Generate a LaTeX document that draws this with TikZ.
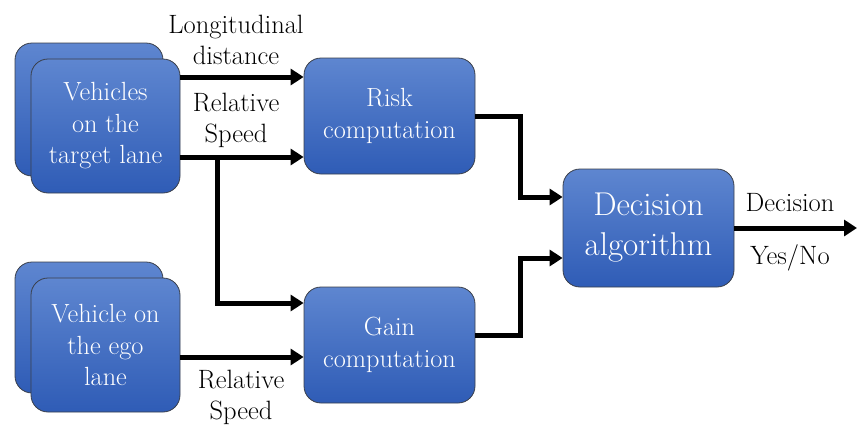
\documentclass[tikz,border=0pt]{standalone}
\usetikzlibrary{arrows.meta,calc}
\definecolor{boxtop}{HTML}{5E86D0}
\definecolor{boxbot}{HTML}{2F5CB6}
\definecolor{boxedge}{HTML}{3A3F4A}
\tikzset{
  blk/.style={rectangle, rounded corners=17pt, draw=boxedge, line width=0.8pt,
    top color=boxtop, bottom color=boxbot, text=white, align=center,
    inner sep=0pt, font=\fontsize{26.3}{31.5}\selectfont},
  arr/.style={line width=5pt, -{Triangle[length=13pt,width=16pt]}},
  lbl/.style={align=center, inner sep=0pt, font=\fontsize{26.5}{31}\selectfont}
}
\begin{document}
\begin{tikzpicture}[x=1pt,y=-1pt]
\useasboundingbox (0,0) rectangle (857,426);
% stacked source boxes
\node[blk, minimum width=148pt, minimum height=133pt] (tvb) at (89,109.5) {};
\node[blk, minimum width=149pt, minimum height=134pt] (tv) at (105.5,126) {Vehicles\\on the\\target lane};
\node[blk, minimum width=148pt, minimum height=131pt] (evb) at (89,327.5) {};
\node[blk, minimum width=149pt, minimum height=134pt] (ev) at (105.5,345) {Vehicle on\\the ego\\lane};
% computation boxes
\node[blk, minimum width=171pt, minimum height=116pt] (risk) at (389.5,116) {Risk\\computation};
\node[blk, minimum width=171pt, minimum height=116pt] (gain) at (389.5,345) {Gain\\computation};
\node[blk, minimum width=171pt, minimum height=118pt, font=\fontsize{33}{40}\selectfont] (dec) at (648.5,228) {Decision\\algorithm};
% connectors
\coordinate (t1) at ([yshift=49pt]tv.east);
\coordinate (t2) at ([yshift=-31pt]tv.east);
\coordinate (e1) at ([yshift=-12pt]ev.east);
\coordinate (br) at (217,157);
\coordinate (out) at (857,228);
\draw[arr] (t1) -- (t1 -| risk.west);
\draw[arr] (t2) -- (t2 -| risk.west);
\draw[arr] (br) |- ([yshift=42pt]gain.west);
\draw[arr] (e1) -- (e1 -| gain.west);
\draw[arr] (risk.east) -- ++(45,0) |- ([yshift=31pt]dec.west);
\draw[arr] ([yshift=10pt]gain.east) -- ++(45,0) |- ([yshift=-30pt]dec.west);
\draw[arr] (dec.east) -- (out);
% labels
\node[lbl] (l1) at (236,40) {Longitudinal\\distance};
\node[lbl] (l2) at (236,120) {Relative\\Speed};
\node[lbl] (l3) at (241,397) {Relative\\Speed};
\node[lbl] (l4) at (790,203) {Decision};
\node[lbl] (l5) at (790,258) {Yes/No};
\end{tikzpicture}
\end{document}
